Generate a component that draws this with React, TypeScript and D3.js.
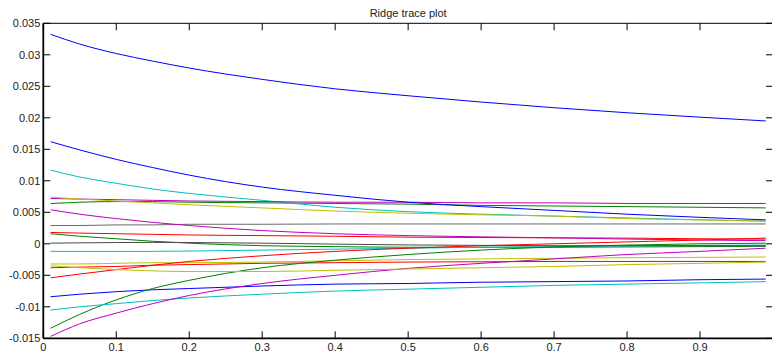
import React from "react";
import * as d3 from "d3";

const lambdas = [0.01, 0.05, 0.1, 0.15, 0.2, 0.3, 0.4, 0.5, 0.6, 0.7, 0.8, 0.9, 0.99];

const blue1 = [0.03325, 0.0317, 0.0302, 0.029, 0.0279, 0.0261, 0.0246, 0.0235, 0.0225, 0.0216, 0.0208, 0.0201, 0.0195];
const blue2 = [0.0162, 0.0149, 0.0134, 0.0121, 0.0109, 0.009, 0.0077, 0.0066, 0.0059, 0.0053, 0.0047, 0.0042, 0.0038];
const cyan1 = [0.0117, 0.0106, 0.0096, 0.0087, 0.008, 0.0069, 0.0058, 0.0051, 0.0047, 0.0044, 0.0041, 0.0038, 0.0036];
const yellow1 = [0.0074, 0.0071, 0.0068, 0.0065, 0.0062, 0.0057, 0.0052, 0.00485, 0.0046, 0.0044, 0.004, 0.0038, 0.0036];
const magenta1 = [0.0072, 0.0071, 0.007, 0.0069, 0.0068, 0.0067, 0.0066, 0.0066, 0.0065, 0.0065, 0.0064, 0.0064, 0.0064];
const green1 = [0.0064, 0.0066, 0.0067, 0.0067, 0.0066, 0.0065, 0.0064, 0.0063, 0.0061, 0.006, 0.0059, 0.0058, 0.0057];
const magenta2 = [0.0054, 0.0047, 0.004, 0.0034, 0.0029, 0.0021, 0.0016, 0.0013, 0.0011, 0.00095, 0.00075, 0.0006, 0.0005];
const black1 = [0.0029, 0.0029, 0.003, 0.003, 0.0031, 0.0031, 0.00315, 0.00315, 0.00315, 0.00315, 0.00315, 0.00315, 0.00315];
const red1 = [0.0018, 0.0017, 0.0016, 0.0015, 0.0014, 0.0013, 0.0012, 0.00105, 0.001, 0.00095, 0.0009, 0.0008, 0.00075];
const green2 = [0.0016, 0.0012, 0.0008, 0.0004, 0.0001, -0.0003, -0.00045, -0.00055, -0.00055, -0.00055, -0.0005, -0.00045, -0.0004];
const black2 = [0.0001, 0.00015, 0.0002, 0.00022, 0.0002, 0.0001, -0.00005, -0.00018, -0.00025, -0.0003, -0.0003, -0.0003, -0.0003];
const cyan2 = [-0.0012, -0.0012, -0.0012, -0.0012, -0.00115, -0.001, -0.00085, -0.0007, -0.00055, -0.00045, -0.00035, -0.00025, -0.0002];
const yellow2 = [-0.0032, -0.0032, -0.0031, -0.003, -0.003, -0.0029, -0.0027, -0.0025, -0.0024, -0.0023, -0.0022, -0.00215, -0.0021];
const yellow3 = [-0.0035, -0.0038, -0.0041, -0.0043, -0.0044, -0.0044, -0.0042, -0.004, -0.0038, -0.0036, -0.0033, -0.0031, -0.0029];
const red2 = [-0.0038, -0.0037, -0.0036, -0.0034, -0.0033, -0.0031, -0.003, -0.0029, -0.00285, -0.0028, -0.0028, -0.0028, -0.0028];
const red3 = [-0.0054, -0.0048, -0.0041, -0.0034, -0.0028, -0.0019, -0.0012, -0.0007, -0.0003, 0.0, 0.0003, 0.0006, 0.0009];
const blue3 = [-0.0084, -0.008, -0.0076, -0.0073, -0.0071, -0.0067, -0.0064, -0.0063, -0.0061, -0.006, -0.0059, -0.0057, -0.0056];
const cyan3 = [-0.0105, -0.01, -0.0095, -0.009, -0.0086, -0.008, -0.0075, -0.0072, -0.0069, -0.0066, -0.0064, -0.0062, -0.006];
const green3 = [-0.0134, -0.0112, -0.0089, -0.0071, -0.0058, -0.0038, -0.0026, -0.0017, -0.001, -0.0005, -0.0002, 0.0, 0.0001];
const magenta3 = [-0.0147, -0.0127, -0.011, -0.0095, -0.0082, -0.0063, -0.005, -0.0039, -0.0031, -0.0024, -0.0017, -0.0012, -0.0007];

const seriesList = [
  { values: blue1, color: "#0000FF" },
  { values: green1, color: "#008000" },
  { values: red1, color: "#FF0000" },
  { values: cyan1, color: "#00BFBF" },
  { values: magenta1, color: "#BF00BF" },
  { values: yellow1, color: "#BFBF00" },
  { values: black1, color: "#6a6a6a" },
  { values: blue2, color: "#0000FF" },
  { values: green2, color: "#008000" },
  { values: red2, color: "#FF0000" },
  { values: cyan2, color: "#00BFBF" },
  { values: magenta2, color: "#BF00BF" },
  { values: yellow2, color: "#BFBF00" },
  { values: black2, color: "#4a4a4a" },
  { values: blue3, color: "#0000FF" },
  { values: green3, color: "#008000" },
  { values: red3, color: "#FF0000" },
  { values: cyan3, color: "#00BFBF" },
  { values: magenta3, color: "#BF00BF" },
  { values: yellow3, color: "#BFBF00" },
];

const xTicks = [0, 0.1, 0.2, 0.3, 0.4, 0.5, 0.6, 0.7, 0.8, 0.9];
const xTickLabels = ["0", "0.1", "0.2", "0.3", "0.4", "0.5", "0.6", "0.7", "0.8", "0.9"];
const yTicks = [0.035, 0.03, 0.025, 0.02, 0.015, 0.01, 0.005, 0, -0.005, -0.01, -0.015];
const yTickLabels = ["0.035", "0.03", "0.025", "0.02", "0.015", "0.01", "0.005", "0", "-0.005", "-0.01", "-0.015"];

const W = 772;
const H = 359;
const left = 43.3;
const right = 773;
const top = 23.3;
const bottom = 338.3;
const tickLen = 7;
const font = "'Liberation Sans', Arial, Helvetica, sans-serif";

export default function App() {
  const x = d3.scaleLinear().domain([0, 1]).range([left, right]);
  const y = d3.scaleLinear().domain([-0.015, 0.035]).range([bottom, top]);
  const line = d3
    .line<number>()
    .x((_, i) => x(lambdas[i]))
    .y((d) => y(d))
    .curve(d3.curveMonotoneX);

  return (
    <svg
      width={W}
      height={H}
      style={{ position: "absolute", left: 0, top: 0, background: "#fff" }}
      fontFamily={font}
    >
      <rect x={0} y={0} width={W} height={H} fill="#fff" />
      <text x={(left + right) / 2} y={17} textAnchor="middle" fontSize={11} fill="#222">
        Ridge trace plot
      </text>
      <g>
        {seriesList.map((s, i) => (
          <path key={i} d={line(s.values) || ""} fill="none" stroke={s.color} strokeWidth={1} />
        ))}
      </g>
      <line x1={left} x2={right} y1={top} y2={top} stroke="#000" strokeWidth={1} />
      <line x1={left} x2={right} y1={bottom} y2={bottom} stroke="#000" strokeWidth={1.8} />
      <line x1={left} x2={left} y1={top} y2={bottom} stroke="#000" strokeWidth={1.8} />
      <line x1={right} x2={right} y1={top} y2={bottom} stroke="#000" strokeWidth={1} />
      {xTicks.map((t, i) => (
        <g key={"x" + i}>
          <line x1={x(t)} x2={x(t)} y1={bottom} y2={bottom - tickLen} stroke="#000" />
          <line x1={x(t)} x2={x(t)} y1={top} y2={top + tickLen} stroke="#000" />
          <text x={x(t)} y={bottom + 13} textAnchor="middle" fontSize={11} fill="#222">
            {xTickLabels[i]}
          </text>
        </g>
      ))}
      {yTicks.map((t, i) => (
        <g key={"y" + i}>
          <line x1={left} x2={left + tickLen} y1={y(t)} y2={y(t)} stroke="#000" />
          <line x1={right} x2={right - tickLen} y1={y(t)} y2={y(t)} stroke="#000" />
          <text x={left - 3} y={y(t) + 4} textAnchor="end" fontSize={11} fill="#222">
            {yTickLabels[i]}
          </text>
        </g>
      ))}
    </svg>
  );
}
